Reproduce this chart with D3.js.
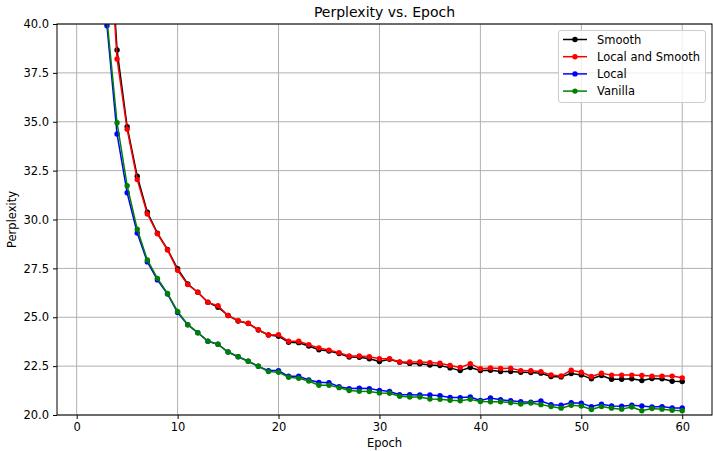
<!DOCTYPE html>
<html><head><meta charset="utf-8">
<script src="https://cdn.jsdelivr.net/npm/d3@7"></script>
<style>
html,body{margin:0;padding:0;background:#fff;}
text{font-family:"DejaVu Sans",sans-serif;fill:#000;}
</style></head>
<body><svg id="c" width="713" height="451"></svg>
<script>
const epochs = d3.range(1, 61);
const smooth = [80.0,55.0,46.9,38.67,34.75,32.21,30.37,29.30,28.47,27.48,26.70,26.28,25.77,25.51,25.09,24.81,24.68,24.35,24.09,24.03,23.72,23.70,23.53,23.34,23.27,23.14,22.97,22.95,22.88,22.74,22.85,22.70,22.64,22.62,22.56,22.53,22.41,22.27,22.43,22.28,22.29,22.22,22.22,22.19,22.17,22.14,21.97,21.95,22.12,22.05,21.85,22.02,21.83,21.83,21.85,21.76,21.87,21.85,21.73,21.71];
const localSmooth = [80.5,55.2,46.7,38.21,34.61,32.04,30.28,29.27,28.44,27.40,26.67,26.28,25.76,25.59,25.09,24.82,24.69,24.36,24.09,24.11,23.77,23.77,23.60,23.43,23.32,23.19,23.02,23.02,22.98,22.88,22.88,22.71,22.71,22.71,22.68,22.65,22.53,22.43,22.63,22.37,22.41,22.38,22.39,22.27,22.26,22.22,22.05,22.00,22.29,22.19,21.97,22.14,22.04,22.04,22.04,22.02,21.99,21.99,21.99,21.90];
const local = [70.0,48.0,39.91,34.37,31.37,29.31,27.83,26.91,26.19,25.24,24.62,24.21,23.77,23.62,23.22,22.98,22.75,22.49,22.27,22.27,21.98,21.98,21.79,21.67,21.65,21.45,21.35,21.37,21.35,21.26,21.20,21.04,21.04,21.02,21.02,20.99,20.90,20.89,20.92,20.74,20.87,20.78,20.73,20.68,20.65,20.72,20.53,20.50,20.63,20.60,20.43,20.55,20.46,20.45,20.50,20.46,20.41,20.43,20.36,20.36];
const vanilla = [70.5,48.5,40.25,34.95,31.73,29.50,27.93,26.99,26.22,25.30,24.62,24.21,23.77,23.62,23.22,22.98,22.75,22.49,22.22,22.19,21.93,21.88,21.74,21.52,21.52,21.40,21.25,21.21,21.20,21.13,21.11,20.96,20.92,20.92,20.82,20.80,20.75,20.73,20.80,20.69,20.68,20.68,20.63,20.56,20.61,20.53,20.43,20.35,20.50,20.46,20.28,20.43,20.35,20.30,20.41,20.22,20.33,20.30,20.24,20.22];
const seriesNames = ["Smooth","Local and Smooth","Local","Vanilla"];
const seriesColors = ["#000000","#ff0000","#0000ff","#008000"];
const seriesValues = [smooth, localSmooth, local, vanilla];
const xTicks = [0,10,20,30,40,50,60];
const yTicks = [20.0,22.5,25.0,27.5,30.0,32.5,35.0,37.5,40.0];
const titleText = "Perplexity vs. Epoch";
const xLabel = "Epoch";
const yLabel = "Perplexity";

const svg = d3.select("#c");
const L = 57, R = 712, T = 24, B = 415;
const xmin = 1, xmax = 60, pad = (xmax - xmin) * 0.05;
const x = d3.scaleLinear().domain([xmin - pad, xmax + pad]).range([L, R]);
const y = d3.scaleLinear().domain([20, 40]).range([B, T]);

svg.append("defs").append("clipPath").attr("id","clip")
  .append("rect").attr("x",L).attr("y",T).attr("width",R-L).attr("height",B-T);

// grid
const g = svg.append("g");
g.selectAll(".gx").data(xTicks).enter().append("line")
  .attr("x1",d=>x(d)).attr("x2",d=>x(d)).attr("y1",T).attr("y2",B)
  .attr("stroke","#b0b0b0").attr("stroke-width",1);
g.selectAll(".gy").data(yTicks).enter().append("line")
  .attr("x1",L).attr("x2",R).attr("y1",d=>y(d)).attr("y2",d=>y(d))
  .attr("stroke","#b0b0b0").attr("stroke-width",1);

// series
const plot = svg.append("g").attr("clip-path","url(#clip)");
const line = d3.line().x((d,i)=>x(epochs[i])).y(d=>y(d));
seriesValues.forEach((vals, k) => {
  plot.append("path").datum(vals).attr("d", line)
    .attr("fill","none").attr("stroke",seriesColors[k]).attr("stroke-width",1.5)
    .attr("stroke-linejoin","round");
  plot.selectAll(null).data(vals).enter().append("circle")
    .attr("cx",(d,i)=>x(epochs[i])).attr("cy",d=>y(d)).attr("r",2.7)
    .attr("fill",seriesColors[k]);
});

// axes
const xAxis = d3.axisBottom(x).tickValues(xTicks).tickFormat(d3.format("d")).tickSize(4).tickPadding(4);
const yAxis = d3.axisLeft(y).tickValues(yTicks).tickFormat(d3.format(".1f")).tickSize(4).tickPadding(4);
const ax = svg.append("g").attr("transform",`translate(0,${B})`).call(xAxis);
const ay = svg.append("g").attr("transform",`translate(${L},0)`).call(yAxis);
[ax, ay].forEach(a => {
  a.select(".domain").remove();
  a.selectAll("text").style("font-family","DejaVu Sans").style("font-size","11.5px").attr("fill","#000");
  a.selectAll("line").attr("stroke","#000");
});
// spines
svg.append("rect").attr("x",L).attr("y",T).attr("width",R-L).attr("height",B-T)
  .attr("fill","none").attr("stroke","#000").attr("stroke-width",1);

// labels
svg.append("text").attr("x",(L+R)/2).attr("y",17).attr("text-anchor","middle")
  .style("font-size","14px").text(titleText);
svg.append("text").attr("x",(L+R)/2).attr("y",447).attr("text-anchor","middle")
  .style("font-size","11.5px").text(xLabel);
svg.append("text").attr("transform",`translate(16,${(T+B)/2}) rotate(-90)`).attr("text-anchor","middle")
  .style("font-size","11.5px").text(yLabel);

// legend
const lg = svg.append("g");
lg.append("rect").attr("x",558.5).attr("y",30.5).attr("width",147).attr("height",72).attr("rx",2.5)
  .attr("fill","#fff").attr("fill-opacity",0.8).attr("stroke","#cccccc").attr("stroke-width",1);
seriesNames.forEach((n,k) => {
  const yy = 39.5 + k*17.2;
  lg.append("line").attr("x1",563).attr("x2",587).attr("y1",yy).attr("y2",yy)
    .attr("stroke",seriesColors[k]).attr("stroke-width",1.5);
  lg.append("circle").attr("cx",575).attr("cy",yy).attr("r",2.7).attr("fill",seriesColors[k]);
  lg.append("text").attr("x",597).attr("y",yy+4.2).style("font-size","11.5px").text(n);
});
</script></body></html>
